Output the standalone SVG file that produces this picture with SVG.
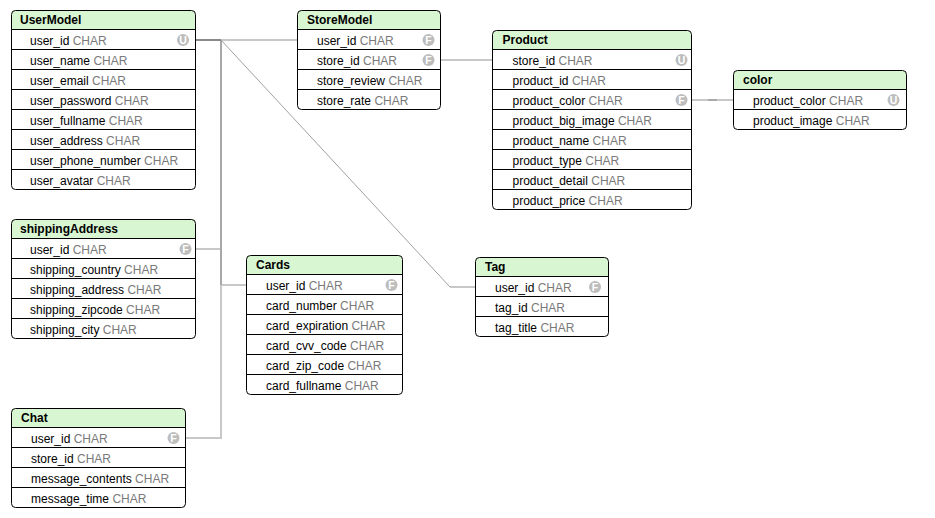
<svg xmlns="http://www.w3.org/2000/svg" width="935" height="518" viewBox="0 0 935 518">
<style>
text{font-family:"Liberation Sans",Arial,Helvetica,sans-serif;font-size:12px;fill:#000}
.h{font-weight:bold}
.t{fill:#7a7a7a}
.box{fill:#fff;stroke:none}
.out{fill:none;stroke:#000;stroke-width:1}
.hd{fill:#d8f6d1}
.sep{stroke:#000;stroke-width:1}
.bg circle{fill:#bdbdbd}
.bg text{fill:#fff;font-size:10.5px;font-weight:bold;text-anchor:middle}
.ln{fill:none;stroke:#c8c8c8;stroke-width:2}
.mid{fill:none;stroke:#a8a8a8;stroke-width:2}
.dk{fill:none;stroke:#8a8a8a;stroke-width:2}
.dg{fill:none;stroke:#a0a0a0;stroke-width:1}
</style>
<g id="connectors">
<path class="ln" d="M221,40 H297.5"/>
<path class="dg" d="M221,40 L450,287"/>
<path class="ln" d="M450,287 H475.5"/>
<path class="ln" d="M221,249 H195.5"/>
<path class="ln" d="M221,285 H246.5"/>
<path class="ln" d="M221,285 V438 H185.5"/>
<path class="mid" d="M221,40 V285"/>
<path class="dk" d="M195.5,40 H221"/>
<path class="ln" d="M440.5,60 H492.5"/>
<path class="ln" d="M691.5,100 H733.5"/>
<path fill="none" stroke="#8a8a8a" stroke-width="1" d="M708,100 H717"/>
</g>

<g id="UserModel">
<rect class="box" x="11.5" y="10.5" width="184" height="179" rx="4"/>
<path class="hd" d="M11.5,29.5 V14.5 Q11.5,10.5 15.5,10.5 H191.5 Q195.5,10.5 195.5,14.5 V29.5 Z"/>
<path class="sep" d="M11.5,29.5 H195.5 M11.5,49.5 H195.5 M11.5,69.5 H195.5 M11.5,89.5 H195.5 M11.5,109.5 H195.5 M11.5,129.5 H195.5 M11.5,149.5 H195.5 M11.5,169.5 H195.5"/>
<rect class="out" x="11.5" y="10.5" width="184" height="179" rx="4"/>
<text class="h" x="20" y="24">UserModel</text>
<text x="30" y="44.5">user_id <tspan class="t">CHAR</tspan></text>
<text x="30" y="64.5">user_name <tspan class="t">CHAR</tspan></text>
<text x="30" y="84.5">user_email <tspan class="t">CHAR</tspan></text>
<text x="30" y="104.5">user_password <tspan class="t">CHAR</tspan></text>
<text x="30" y="124.5">user_fullname <tspan class="t">CHAR</tspan></text>
<text x="30" y="144.5">user_address <tspan class="t">CHAR</tspan></text>
<text x="30" y="164.5">user_phone_number <tspan class="t">CHAR</tspan></text>
<text x="30" y="184.5">user_avatar <tspan class="t">CHAR</tspan></text>
<g class="bg"><circle cx="183" cy="40" r="6"/><text x="183" y="43.7">U</text></g>
</g>

<g id="StoreModel">
<rect class="box" x="297.5" y="10.5" width="143" height="99" rx="4"/>
<path class="hd" d="M297.5,29.5 V14.5 Q297.5,10.5 301.5,10.5 H436.5 Q440.5,10.5 440.5,14.5 V29.5 Z"/>
<path class="sep" d="M297.5,29.5 H440.5 M297.5,49.5 H440.5 M297.5,69.5 H440.5 M297.5,89.5 H440.5"/>
<rect class="out" x="297.5" y="10.5" width="143" height="99" rx="4"/>
<text class="h" x="307" y="24">StoreModel</text>
<text x="317" y="44.5">user_id <tspan class="t">CHAR</tspan></text>
<text x="317" y="64.5">store_id <tspan class="t">CHAR</tspan></text>
<text x="317" y="84.5">store_review <tspan class="t">CHAR</tspan></text>
<text x="317" y="104.5">store_rate <tspan class="t">CHAR</tspan></text>
<g class="bg"><circle cx="428.5" cy="40" r="6"/><text x="428.5" y="43.7">F</text></g>
<g class="bg"><circle cx="428.5" cy="60" r="6"/><text x="428.5" y="63.7">F</text></g>
</g>

<g id="Product">
<rect class="box" x="492.5" y="30.5" width="199" height="179" rx="4"/>
<path class="hd" d="M492.5,49.5 V34.5 Q492.5,30.5 496.5,30.5 H687.5 Q691.5,30.5 691.5,34.5 V49.5 Z"/>
<path class="sep" d="M492.5,49.5 H691.5 M492.5,69.5 H691.5 M492.5,89.5 H691.5 M492.5,109.5 H691.5 M492.5,129.5 H691.5 M492.5,149.5 H691.5 M492.5,169.5 H691.5 M492.5,189.5 H691.5"/>
<rect class="out" x="492.5" y="30.5" width="199" height="179" rx="4"/>
<text class="h" x="502.5" y="44">Product</text>
<text x="512.5" y="64.5">store_id <tspan class="t">CHAR</tspan></text>
<text x="512.5" y="84.5">product_id <tspan class="t">CHAR</tspan></text>
<text x="512.5" y="104.5">product_color <tspan class="t">CHAR</tspan></text>
<text x="512.5" y="124.5">product_big_image <tspan class="t">CHAR</tspan></text>
<text x="512.5" y="144.5">product_name <tspan class="t">CHAR</tspan></text>
<text x="512.5" y="164.5">product_type <tspan class="t">CHAR</tspan></text>
<text x="512.5" y="184.5">product_detail <tspan class="t">CHAR</tspan></text>
<text x="512.5" y="204.5">product_price <tspan class="t">CHAR</tspan></text>
<g class="bg"><circle cx="681.5" cy="60" r="6"/><text x="681.5" y="63.7">U</text></g>
<g class="bg"><circle cx="681.5" cy="100" r="6"/><text x="681.5" y="103.7">F</text></g>
</g>

<g id="color">
<rect class="box" x="733.5" y="70.5" width="173" height="59" rx="4"/>
<path class="hd" d="M733.5,89.5 V74.5 Q733.5,70.5 737.5,70.5 H902.5 Q906.5,70.5 906.5,74.5 V89.5 Z"/>
<path class="sep" d="M733.5,89.5 H906.5 M733.5,109.5 H906.5"/>
<rect class="out" x="733.5" y="70.5" width="173" height="59" rx="4"/>
<text class="h" x="743" y="84">color</text>
<text x="753" y="104.5">product_color <tspan class="t">CHAR</tspan></text>
<text x="753" y="124.5">product_image <tspan class="t">CHAR</tspan></text>
<g class="bg"><circle cx="893.5" cy="100" r="6"/><text x="893.5" y="103.7">U</text></g>
</g>

<g id="shippingAddress">
<rect class="box" x="11.5" y="219.5" width="184" height="119" rx="4"/>
<path class="hd" d="M11.5,238.5 V223.5 Q11.5,219.5 15.5,219.5 H191.5 Q195.5,219.5 195.5,223.5 V238.5 Z"/>
<path class="sep" d="M11.5,238.5 H195.5 M11.5,258.5 H195.5 M11.5,278.5 H195.5 M11.5,298.5 H195.5 M11.5,318.5 H195.5"/>
<rect class="out" x="11.5" y="219.5" width="184" height="119" rx="4"/>
<text class="h" x="20" y="233">shippingAddress</text>
<text x="30" y="253.5">user_id <tspan class="t">CHAR</tspan></text>
<text x="30" y="273.5">shipping_country <tspan class="t">CHAR</tspan></text>
<text x="30" y="293.5">shipping_address <tspan class="t">CHAR</tspan></text>
<text x="30" y="313.5">shipping_zipcode <tspan class="t">CHAR</tspan></text>
<text x="30" y="333.5">shipping_city <tspan class="t">CHAR</tspan></text>
<g class="bg"><circle cx="185.5" cy="249" r="6"/><text x="185.5" y="252.7">F</text></g>
</g>

<g id="Cards">
<rect class="box" x="246.5" y="255.5" width="156" height="139" rx="4"/>
<path class="hd" d="M246.5,274.5 V259.5 Q246.5,255.5 250.5,255.5 H398.5 Q402.5,255.5 402.5,259.5 V274.5 Z"/>
<path class="sep" d="M246.5,274.5 H402.5 M246.5,294.5 H402.5 M246.5,314.5 H402.5 M246.5,334.5 H402.5 M246.5,354.5 H402.5 M246.5,374.5 H402.5"/>
<rect class="out" x="246.5" y="255.5" width="156" height="139" rx="4"/>
<text class="h" x="256" y="269">Cards</text>
<text x="266" y="289.5">user_id <tspan class="t">CHAR</tspan></text>
<text x="266" y="309.5">card_number <tspan class="t">CHAR</tspan></text>
<text x="266" y="329.5">card_expiration <tspan class="t">CHAR</tspan></text>
<text x="266" y="349.5">card_cvv_code <tspan class="t">CHAR</tspan></text>
<text x="266" y="369.5">card_zip_code <tspan class="t">CHAR</tspan></text>
<text x="266" y="389.5">card_fullname <tspan class="t">CHAR</tspan></text>
<g class="bg"><circle cx="391.5" cy="285" r="6"/><text x="391.5" y="288.7">F</text></g>
</g>

<g id="Tag">
<rect class="box" x="475.5" y="257.5" width="133" height="79" rx="4"/>
<path class="hd" d="M475.5,276.5 V261.5 Q475.5,257.5 479.5,257.5 H604.5 Q608.5,257.5 608.5,261.5 V276.5 Z"/>
<path class="sep" d="M475.5,276.5 H608.5 M475.5,296.5 H608.5 M475.5,316.5 H608.5"/>
<rect class="out" x="475.5" y="257.5" width="133" height="79" rx="4"/>
<text class="h" x="485" y="271">Tag</text>
<text x="495" y="291.5">user_id <tspan class="t">CHAR</tspan></text>
<text x="495" y="311.5">tag_id <tspan class="t">CHAR</tspan></text>
<text x="495" y="331.5">tag_title <tspan class="t">CHAR</tspan></text>
<g class="bg"><circle cx="595" cy="287" r="6"/><text x="595" y="290.7">F</text></g>
</g>

<g id="Chat">
<rect class="box" x="11.5" y="408.5" width="174" height="99" rx="4"/>
<path class="hd" d="M11.5,427.5 V412.5 Q11.5,408.5 15.5,408.5 H181.5 Q185.5,408.5 185.5,412.5 V427.5 Z"/>
<path class="sep" d="M11.5,427.5 H185.5 M11.5,447.5 H185.5 M11.5,467.5 H185.5 M11.5,487.5 H185.5"/>
<rect class="out" x="11.5" y="408.5" width="174" height="99" rx="4"/>
<text class="h" x="21" y="422">Chat</text>
<text x="31" y="442.5">user_id <tspan class="t">CHAR</tspan></text>
<text x="31" y="462.5">store_id <tspan class="t">CHAR</tspan></text>
<text x="31" y="482.5">message_contents <tspan class="t">CHAR</tspan></text>
<text x="31" y="502.5">message_time <tspan class="t">CHAR</tspan></text>
<g class="bg"><circle cx="173.5" cy="438" r="6"/><text x="173.5" y="441.7">F</text></g>
</g>
</svg>
